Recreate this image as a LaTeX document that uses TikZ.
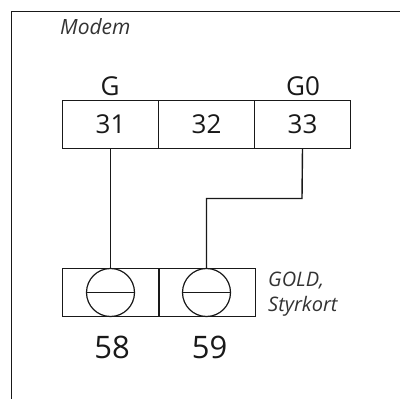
\documentclass[tikz,border=0pt]{standalone}
\usepackage{fontspec}
\setmainfont{Open Sans}
\tikzset{
  cellbox/.style={draw=black!90,line width=1.2pt,minimum height=48pt,inner sep=0pt,outer sep=0pt,font=\fontsize{26}{26}\selectfont,text=black!90},
  screw/.style={circle,draw=black!90,line width=1.2pt,minimum size=48pt,inner sep=0pt,outer sep=0pt},
  wire/.style={draw=black!90,line width=1.4pt},
  lab/.style={inner sep=0pt,text=black!90,font=\fontsize{26}{26}\selectfont},
  biglab/.style={inner sep=0pt,text=black!90,font=\fontsize{31}{31}\selectfont},
  note/.style={inner sep=0pt,text=black!80,align=left,font=\itshape\fontsize{20}{25}\selectfont}
}
\begin{document}
\begin{tikzpicture}[x=1pt,y=-1pt]
\useasboundingbox (0,0) rectangle (400,399);
\fill[white] (0,0) rectangle (400,399);
\draw[draw=black!90,line width=1.6pt] (400,11.5) -- (11.5,11.5) -- (11.5,399);
\node[note,anchor=west,font=\itshape\fontsize{21}{25}\selectfont] (modem) at (60,27) {Modem};
\node[cellbox,minimum width=96pt] (t31) at (110.5,124.5) {31};
\node[cellbox,minimum width=96pt] (t32) at (206.5,124.5) {32};
\node[cellbox,minimum width=96pt] (t33) at (302.5,124.5) {33};
\node[lab] (g) at (110,86) {G};
\node[lab] (g0) at (303,86) {G0};
\node[cellbox,minimum width=96pt] (b58) at (110.5,292.5) {};
\node[cellbox,minimum width=96.5pt] (b59) at (207.25,292.5) {};
\node[screw] (s58) at (110.5,292.5) {};
\node[screw] (s59) at (206.5,292.5) {};
\draw[draw=black!90,line width=1.2pt] (s58.west) -- (s58.east);
\draw[draw=black!90,line width=1.2pt] (s59.west) -- (s59.east);
\draw[wire] (t31.south) -- (s58.north);
\draw[wire] (t33.south) -- (302,198.5) -- (206.5,198.5) -- (s59.north);
\node[note,anchor=north west] (gold) at (268,271.5) {GOLD,\\Styrkort};
\node[biglab] (n58) at (112,347.5) {58};
\node[biglab] (n59) at (209.5,347.5) {59};
\end{tikzpicture}
\end{document}
